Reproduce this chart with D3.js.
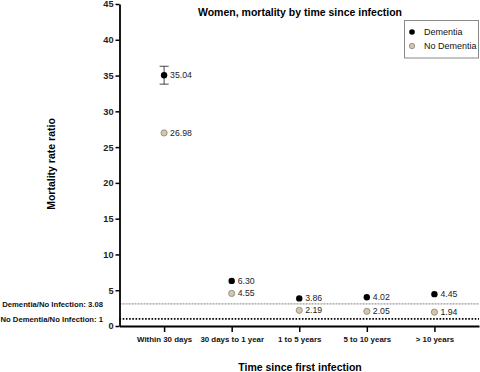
<!DOCTYPE html>
<html>
<head>
<meta charset="utf-8">
<script src="https://cdn.jsdelivr.net/npm/d3@7"></script>
<style>
  html, body { margin: 0; padding: 0; background: #fff; }
  svg { display: block; font-family: "Liberation Sans", Arial, sans-serif; }
</style>
</head>
<body>
<svg id="chart" width="480" height="372"></svg>
<script>
const categories = ["Within 30 days", "30 days to 1 year", "1 to 5 years", "5 to 10 years", "> 10 years"];
const dementia = [35.04, 6.30, 3.86, 4.02, 4.45];
// error bars are only visible (outside the marker) for the first point
const dementiaLow = [33.8, null, null, null, null];
const dementiaHigh = [36.3, null, null, null, null];
const noDementia = [26.98, 4.55, 2.19, 2.05, 1.94];
const yTicks = [0, 5, 10, 15, 20, 25, 30, 35, 40, 45];
const refValues = [3.08, 1];
const refLabels = ["Dementia/No Infection: 3.08", "No Dementia/No Infection: 1"];
const seriesNames = ["Dementia", "No Dementia"];

const svg = d3.select("#chart");
const plotLeft = 119.5, plotRight = 479, plotTop = 4, plotBottom = 326;

const x = d3.scalePoint().domain(categories).range([plotLeft, plotRight]).padding(0.66);
const y = d3.scaleLinear().domain([0, 45]).range([plotBottom, plotTop]);

const dementiaColor = "#000000";
const noDemFill = "#d6c6a2";
const noDemStroke = "#8c8c8c";

// Reference lines
svg.append("line")
  .attr("x1", plotLeft).attr("x2", plotRight)
  .attr("y1", y(refValues[0])).attr("y2", y(refValues[0]))
  .attr("stroke", "#9a9a9a").attr("stroke-width", 1.2)
  .attr("stroke-dasharray", "2,1");
svg.append("line")
  .attr("x1", plotLeft).attr("x2", plotRight)
  .attr("y1", y(refValues[1])).attr("y2", y(refValues[1]))
  .attr("stroke", "#000").attr("stroke-width", 1.6)
  .attr("stroke-dasharray", "1.6,1.6");

refValues.forEach((v, i) => {
  svg.append("text")
    .attr("x", 103).attr("y", y(v))
    .attr("dy", "0.35em")
    .attr("text-anchor", "end")
    .attr("font-size", "7.7px").attr("font-weight", "bold")
    .attr("fill", "#111")
    .text(refLabels[i]);
});

// Y axis
const yAxis = svg.append("g")
  .attr("transform", `translate(${plotLeft},0)`)
  .call(d3.axisLeft(y).tickValues(yTicks).tickSize(4).tickPadding(2).tickSizeOuter(0));
yAxis.select(".domain").attr("stroke", "#000").attr("stroke-width", 1.8);
yAxis.selectAll(".tick line").attr("stroke", "#000").attr("stroke-width", 1.5);
yAxis.selectAll(".tick text")
  .attr("font-size", "9.2px").attr("font-weight", "bold")
  .attr("font-family", "Liberation Sans, Arial, sans-serif").attr("fill", "#222");

// X axis
const xAxis = svg.append("g")
  .attr("transform", `translate(0,${plotBottom})`)
  .call(d3.axisBottom(x).tickSize(6).tickPadding(4).tickSizeOuter(0));
xAxis.select(".domain").attr("stroke", "#000").attr("stroke-width", 1.8);
xAxis.selectAll(".tick line").attr("stroke", "#000").attr("stroke-width", 1.5);
xAxis.selectAll(".tick text")
  .attr("font-size", "7.9px").attr("font-weight", "bold")
  .attr("font-family", "Liberation Sans, Arial, sans-serif").attr("fill", "#111");

// Error bars (dementia)
const capW = 4.5;
categories.forEach((c, i) => {
  if (dementiaLow[i] == null || dementiaHigh[i] == null) return;
  const cx = x(c);
  const g = svg.append("g").attr("stroke", "#333").attr("stroke-width", 0.9);
  g.append("line").attr("x1", cx).attr("x2", cx)
    .attr("y1", y(dementiaLow[i])).attr("y2", y(dementiaHigh[i]));
  g.append("line").attr("x1", cx - capW).attr("x2", cx + capW)
    .attr("y1", y(dementiaLow[i])).attr("y2", y(dementiaLow[i]));
  g.append("line").attr("x1", cx - capW).attr("x2", cx + capW)
    .attr("y1", y(dementiaHigh[i])).attr("y2", y(dementiaHigh[i]));
});

// Points
svg.selectAll(".nd").data(noDementia).enter().append("circle")
  .attr("cx", (d, i) => x(categories[i])).attr("cy", d => y(d))
  .attr("r", 3.1).attr("fill", noDemFill).attr("stroke", noDemStroke).attr("stroke-width", 0.9);
svg.selectAll(".dm").data(dementia).enter().append("circle")
  .attr("cx", (d, i) => x(categories[i])).attr("cy", d => y(d))
  .attr("r", 3.2).attr("fill", dementiaColor);

// Value labels
const fmt = d3.format(".2f");
svg.selectAll(".dml").data(dementia).enter().append("text")
  .attr("x", (d, i) => x(categories[i]) + 6).attr("y", d => y(d))
  .attr("dy", "0.35em").attr("font-size", "8.7px").attr("fill", "#222")
  .text(d => fmt(d));
svg.selectAll(".ndl").data(noDementia).enter().append("text")
  .attr("x", (d, i) => x(categories[i]) + 6).attr("y", d => y(d))
  .attr("dy", "0.35em").attr("font-size", "8.7px").attr("fill", "#222")
  .text(d => fmt(d));

// Title
svg.append("text")
  .attr("x", 300).attr("y", 16)
  .attr("text-anchor", "middle")
  .attr("font-size", "10.5px").attr("font-weight", "bold").attr("fill", "#000")
  .text("Women, mortality by time since infection");

// Axis titles
svg.append("text")
  .attr("transform", "translate(55,164) rotate(-90)")
  .attr("text-anchor", "middle")
  .attr("font-size", "10.5px").attr("font-weight", "bold").attr("fill", "#000")
  .text("Mortality rate ratio");
svg.append("text")
  .attr("x", 300).attr("y", 371)
  .attr("text-anchor", "middle")
  .attr("font-size", "10.5px").attr("font-weight", "bold").attr("fill", "#000")
  .text("Time since first infection");

// Legend
const lg = svg.append("g");
lg.append("rect")
  .attr("x", 404.5).attr("y", 20.5).attr("width", 74).attr("height", 37.5)
  .attr("fill", "#fff").attr("stroke", "#8a8a8a").attr("stroke-width", 1);
seriesNames.forEach((name, i) => {
  const ly = 32 + i * 14;
  lg.append("circle")
    .attr("cx", 412).attr("cy", ly).attr("r", i === 0 ? 2.8 : 2.7)
    .attr("fill", i === 0 ? dementiaColor : noDemFill)
    .attr("stroke", i === 0 ? "none" : noDemStroke).attr("stroke-width", 0.9);
  lg.append("text")
    .attr("x", 424).attr("y", ly).attr("dy", "0.35em")
    .attr("font-size", "9px").attr("fill", "#111")
    .text(name);
});
</script>
</body>
</html>
